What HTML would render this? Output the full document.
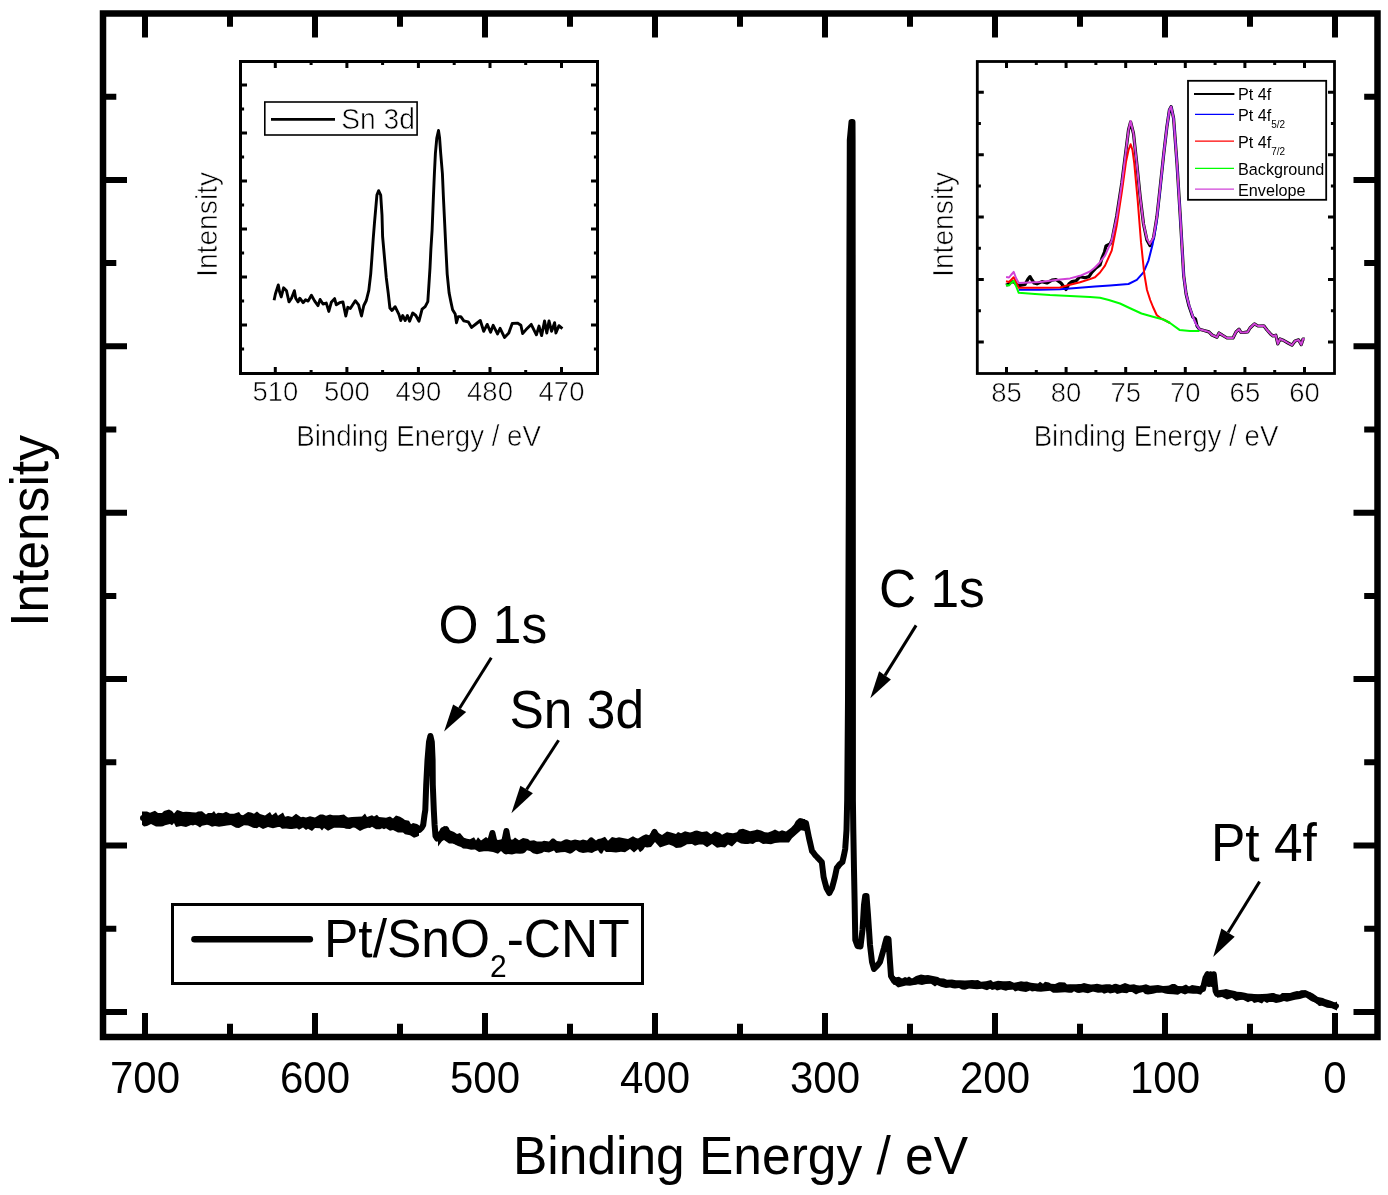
<!DOCTYPE html><html><head><meta charset="utf-8"><style>html,body{margin:0;padding:0;background:#fff;}svg{display:block;will-change:transform;}text{font-family:"Liberation Sans",sans-serif;}.t{stroke:#fff;stroke-width:0.6px;}</style></head><body><svg width="1388" height="1195" viewBox="0 0 1388 1195"><rect width="100%" height="100%" fill="#fff"/><rect x="103" y="13.5" width="1274.5" height="1023.5" fill="none" stroke="#000" stroke-width="6.5"/><path d="M1335.0,1037 V1013 M1335.0,13.5 V37.5 M1250.0,1037 V1023.7 M1250.0,13.5 V26.8 M1165.0,1037 V1013 M1165.0,13.5 V37.5 M1080.0,1037 V1023.7 M1080.0,13.5 V26.8 M995.0,1037 V1013 M995.0,13.5 V37.5 M910.0,1037 V1023.7 M910.0,13.5 V26.8 M825.0,1037 V1013 M825.0,13.5 V37.5 M740.0,1037 V1023.7 M740.0,13.5 V26.8 M655.0,1037 V1013 M655.0,13.5 V37.5 M570.0,1037 V1023.7 M570.0,13.5 V26.8 M485.0,1037 V1013 M485.0,13.5 V37.5 M400.0,1037 V1023.7 M400.0,13.5 V26.8 M315.0,1037 V1013 M315.0,13.5 V37.5 M230.0,1037 V1023.7 M230.0,13.5 V26.8 M145.0,1037 V1013 M145.0,13.5 V37.5 M103,96.7 H116.3 M1377.5,96.7 H1364.2 M103,179.9 H127 M1377.5,179.9 H1353.5 M103,263.1 H116.3 M1377.5,263.1 H1364.2 M103,346.3 H127 M1377.5,346.3 H1353.5 M103,429.5 H116.3 M1377.5,429.5 H1364.2 M103,512.7 H127 M1377.5,512.7 H1353.5 M103,595.9 H116.3 M1377.5,595.9 H1364.2 M103,679.1 H127 M1377.5,679.1 H1353.5 M103,762.3 H116.3 M1377.5,762.3 H1364.2 M103,845.5 H127 M1377.5,845.5 H1353.5 M103,928.7 H116.3 M1377.5,928.7 H1364.2 M103,1011.9 H127 M1377.5,1011.9 H1353.5" stroke="#000" stroke-width="6" stroke-linecap="butt" fill="none"/><text transform="translate(1335.0,1093) scale(1,1.035)" font-size="42" text-anchor="middle" font-family="Liberation Sans, sans-serif">0</text><text transform="translate(1165.0,1093) scale(1,1.035)" font-size="42" text-anchor="middle" font-family="Liberation Sans, sans-serif">100</text><text transform="translate(995.0,1093) scale(1,1.035)" font-size="42" text-anchor="middle" font-family="Liberation Sans, sans-serif">200</text><text transform="translate(825.0,1093) scale(1,1.035)" font-size="42" text-anchor="middle" font-family="Liberation Sans, sans-serif">300</text><text transform="translate(655.0,1093) scale(1,1.035)" font-size="42" text-anchor="middle" font-family="Liberation Sans, sans-serif">400</text><text transform="translate(485.0,1093) scale(1,1.035)" font-size="42" text-anchor="middle" font-family="Liberation Sans, sans-serif">500</text><text transform="translate(315.0,1093) scale(1,1.035)" font-size="42" text-anchor="middle" font-family="Liberation Sans, sans-serif">600</text><text transform="translate(145.0,1093) scale(1,1.035)" font-size="42" text-anchor="middle" font-family="Liberation Sans, sans-serif">700</text><text transform="translate(740.5,1174) scale(1,1.035)" font-size="51.5" text-anchor="middle" font-family="Liberation Sans, sans-serif">Binding Energy / eV</text><text transform="translate(48.2,531) rotate(-90) scale(1,1.035)" font-size="51.5" text-anchor="middle" font-family="Liberation Sans, sans-serif">Intensity</text><path d="M143.0,818.0 L144.0,818.0 L145.0,818.0 L146.0,818.0 L147.0,818.0 L148.0,818.0 L149.0,818.0 L150.0,818.0 L151.0,818.0 L152.0,818.0 L153.0,818.0 L154.0,818.0 L155.0,818.0 L156.0,818.0 L157.0,818.0 L158.0,818.0 L159.0,818.0 L160.0,818.0 L161.0,818.0 L162.0,818.0 L163.0,818.0 L164.0,818.0 L165.0,818.0 L166.0,818.0 L167.0,818.0 L168.0,818.0 L169.0,818.0 L170.0,818.0 L171.0,818.0 L172.0,818.1 L173.0,818.1 L174.0,818.1 L175.0,818.2 L176.0,818.2 L177.0,818.2 L178.0,818.3 L179.0,818.3 L180.0,818.3 L181.0,818.4 L182.0,818.4 L183.0,818.4 L184.0,818.5 L185.0,818.5 L186.0,818.5 L187.0,818.6 L188.0,818.6 L189.0,818.6 L190.0,818.7 L191.0,818.7 L192.0,818.7 L193.0,818.8 L194.0,818.8 L195.0,818.8 L196.0,818.9 L197.0,818.9 L198.0,818.9 L199.0,819.0 L200.0,819.0 L201.0,819.0 L202.0,819.0 L203.0,819.1 L204.0,819.1 L205.0,819.1 L206.0,819.1 L207.0,819.1 L208.0,819.2 L209.0,819.2 L210.0,819.2 L211.0,819.2 L212.0,819.2 L213.0,819.3 L214.0,819.3 L215.0,819.3 L216.0,819.3 L217.0,819.3 L218.0,819.4 L219.0,819.4 L220.0,819.4 L221.0,819.4 L222.0,819.4 L223.0,819.5 L224.0,819.5 L225.0,819.5 L226.0,819.5 L227.0,819.5 L228.0,819.6 L229.0,819.6 L230.0,819.6 L231.0,819.6 L232.0,819.6 L233.0,819.7 L234.0,819.7 L235.0,819.7 L236.0,819.7 L237.0,819.7 L238.0,819.8 L239.0,819.8 L240.0,819.8 L241.0,819.8 L242.0,819.8 L243.0,819.9 L244.0,819.9 L245.0,819.9 L246.0,819.9 L247.0,819.9 L248.0,820.0 L249.0,820.0 L250.0,820.0 L251.0,820.0 L252.0,820.1 L253.0,820.1 L254.0,820.2 L255.0,820.2 L256.0,820.2 L257.0,820.3 L258.0,820.3 L259.0,820.4 L260.0,820.4 L261.0,820.4 L262.0,820.5 L263.0,820.5 L264.0,820.6 L265.0,820.6 L266.0,820.6 L267.0,820.7 L268.0,820.7 L269.0,820.8 L270.0,820.8 L271.0,820.8 L272.0,820.9 L273.0,820.9 L274.0,821.0 L275.0,821.0 L276.0,821.0 L277.0,821.1 L278.0,821.1 L279.0,821.2 L280.0,821.2 L281.0,821.2 L282.0,821.3 L283.0,821.3 L284.0,821.4 L285.0,821.4 L286.0,821.4 L287.0,821.5 L288.0,821.5 L289.0,821.6 L290.0,821.6 L291.0,821.6 L292.0,821.7 L293.0,821.7 L294.0,821.8 L295.0,821.8 L296.0,821.8 L297.0,821.9 L298.0,821.9 L299.0,822.0 L300.0,822.0 L301.0,822.0 L302.0,822.1 L303.0,822.1 L304.0,822.1 L305.0,822.2 L306.0,822.2 L307.0,822.2 L308.0,822.3 L309.0,822.3 L310.0,822.3 L311.0,822.4 L312.0,822.4 L313.0,822.4 L314.0,822.5 L315.0,822.5 L316.0,822.5 L317.0,822.6 L318.0,822.6 L319.0,822.6 L320.0,822.7 L321.0,822.7 L322.0,822.7 L323.0,822.8 L324.0,822.8 L325.0,822.8 L326.0,822.9 L327.0,822.9 L328.0,822.9 L329.0,823.0 L330.0,823.0 L331.0,823.0 L332.0,823.0 L333.0,822.9 L334.0,822.9 L335.0,822.9 L336.0,822.9 L337.0,822.8 L338.0,822.8 L339.0,822.8 L340.0,822.8 L341.0,822.7 L342.0,822.7 L343.0,822.7 L344.0,822.6 L345.0,822.6 L346.0,822.6 L347.0,822.6 L348.0,822.5 L349.0,822.5 L350.0,822.5 L351.0,822.5 L352.0,822.5 L353.0,822.4 L354.0,822.4 L355.0,822.4 L356.0,822.4 L357.0,822.3 L358.0,822.3 L359.0,822.3 L360.0,822.2 L361.0,822.2 L362.0,822.2 L363.0,822.2 L364.0,822.1 L365.0,822.1 L366.0,822.1 L367.0,822.1 L368.0,822.0 L369.0,822.0 L370.0,822.0 L371.0,822.1 L372.0,822.1 L373.0,822.2 L374.0,822.3 L375.0,822.3 L376.0,822.4 L377.0,822.5 L378.0,822.5 L379.0,822.6 L380.0,822.7 L381.0,822.7 L382.0,822.8 L383.0,822.9 L384.0,822.9 L385.0,823.0 L386.0,823.1 L387.0,823.1 L388.0,823.2 L389.0,823.3 L390.0,823.3 L391.0,823.4 L392.0,823.5 L393.0,823.5 L394.0,823.6 L395.0,823.7 L396.0,823.7 L397.0,823.8 L398.0,823.9 L399.0,823.9 L400.0,824.0 L401.0,824.5 L402.0,825.0 L403.0,825.5 L404.0,826.0 L405.0,826.5 L406.0,827.0 L407.0,827.5 L408.0,828.0 L409.0,828.3 L410.0,828.6 L411.0,828.9 L412.0,829.1 L413.0,829.4 L414.0,829.7 L415.0,830.0 L416.1,830.0 L417.2,830.0 L418.4,830.0 L419.5,830.0 L420.5,829.0 L421.5,828.0 L423.2,825.0 L424.5,815.0 L425.3,810.0 L426.2,785.0 L427.5,760.0 L429.0,742.0 L430.4,736.0 L431.8,742.0 L432.6,760.0 L432.8,785.0 L433.8,810.0 L434.6,825.0 L435.5,836.0 L437.0,838.5 L438.0,837.7 L439.0,836.8 L440.0,836.0 L441.0,834.0 L442.0,832.0 L443.0,830.0 L444.0,829.7 L445.0,829.3 L446.0,829.0 L447.0,831.2 L448.0,833.5 L449.0,835.8 L450.0,838.0 L451.0,838.6 L452.0,839.2 L453.0,839.8 L454.0,840.4 L455.0,841.0 L456.0,841.3 L457.0,841.6 L458.0,841.9 L459.0,842.2 L460.0,842.5 L461.0,842.8 L462.0,843.1 L463.0,843.4 L464.0,843.7 L465.0,844.0 L466.0,844.1 L467.0,844.2 L468.0,844.2 L469.0,844.3 L470.0,844.4 L471.0,844.5 L472.0,844.5 L473.0,844.6 L474.0,844.7 L475.0,844.8 L476.0,844.8 L477.0,844.9 L478.0,845.0 L479.0,845.1 L480.0,845.2 L481.0,845.3 L482.0,845.4 L483.0,845.5 L484.0,845.6 L485.0,845.7 L486.0,845.8 L487.0,845.9 L488.0,846.0 L489.2,843.0 L490.5,840.0 L492.4,833.0 L494.0,840.0 L495.0,843.0 L496.0,846.0 L497.0,846.0 L498.0,846.0 L499.0,846.0 L500.0,846.0 L501.0,846.0 L502.0,846.0 L503.0,846.0 L504.0,842.0 L505.0,838.0 L506.4,831.0 L508.0,840.0 L509.0,843.0 L510.0,846.0 L511.0,846.1 L512.0,846.2 L513.0,846.3 L514.0,846.4 L515.0,846.5 L516.0,846.6 L517.0,846.7 L518.0,846.8 L519.0,846.9 L520.0,847.0 L521.0,847.0 L522.0,846.9 L523.0,846.9 L524.0,846.8 L525.0,846.8 L526.0,846.7 L527.0,846.7 L528.0,846.7 L529.0,846.6 L530.0,846.6 L531.0,846.5 L532.0,846.5 L533.0,846.4 L534.0,846.4 L535.0,846.3 L536.0,846.3 L537.0,846.3 L538.0,846.2 L539.0,846.2 L540.0,846.1 L541.0,846.1 L542.0,846.0 L543.0,846.0 L544.0,846.0 L545.0,846.0 L546.0,846.0 L547.0,846.0 L548.0,846.0 L549.0,845.9 L550.0,845.9 L551.0,845.9 L552.0,845.9 L553.0,845.9 L554.0,845.9 L555.0,845.9 L556.0,845.9 L557.0,845.9 L558.0,845.9 L559.0,845.9 L560.0,845.9 L561.0,845.8 L562.0,845.8 L563.0,845.8 L564.0,845.8 L565.0,845.8 L566.0,845.8 L567.0,845.8 L568.0,845.8 L569.0,845.8 L570.0,845.8 L571.0,845.8 L572.0,845.7 L573.0,845.7 L574.0,845.7 L575.0,845.7 L576.0,845.7 L577.0,845.7 L578.0,845.7 L579.0,845.7 L580.0,845.7 L581.0,845.7 L582.0,845.7 L583.0,845.6 L584.0,845.6 L585.0,845.6 L586.0,845.6 L587.0,845.6 L588.0,845.6 L589.0,845.6 L590.0,845.6 L591.0,845.6 L592.0,845.6 L593.0,845.6 L594.0,845.6 L595.0,845.5 L596.0,845.5 L597.0,845.5 L598.0,845.5 L599.0,845.5 L600.0,845.5 L601.0,845.5 L602.0,845.4 L603.0,845.4 L604.0,845.4 L605.0,845.3 L606.0,845.3 L607.0,845.2 L608.0,845.2 L609.0,845.2 L610.0,845.1 L611.0,845.1 L612.0,845.0 L613.0,845.0 L614.0,845.0 L615.0,844.9 L616.0,844.9 L617.0,844.9 L618.0,844.8 L619.0,844.8 L620.0,844.8 L621.0,844.7 L622.0,844.7 L623.0,844.6 L624.0,844.6 L625.0,844.6 L626.0,844.5 L627.0,844.5 L628.0,844.5 L629.0,844.4 L630.0,844.4 L631.0,844.3 L632.0,844.3 L633.0,844.3 L634.0,844.2 L635.0,844.2 L636.0,844.1 L637.0,844.1 L638.0,844.1 L639.0,844.0 L640.0,844.0 L641.0,843.6 L642.0,843.2 L643.0,842.8 L644.0,842.4 L645.0,842.0 L646.0,841.6 L647.0,841.2 L648.0,840.8 L649.0,840.4 L650.0,840.0 L651.1,838.0 L652.2,836.0 L653.4,834.0 L654.5,832.0 L655.6,834.0 L656.8,836.0 L657.9,838.0 L659.0,840.0 L660.0,840.0 L661.0,840.0 L662.0,840.0 L663.0,840.0 L664.0,840.0 L665.0,840.0 L666.0,840.0 L667.0,840.0 L668.0,840.0 L669.0,840.0 L670.0,840.0 L671.0,840.0 L672.0,840.0 L673.0,840.0 L674.0,840.0 L675.0,840.0 L676.0,840.0 L677.0,840.0 L678.0,840.0 L679.0,840.0 L680.0,840.0 L681.0,839.9 L682.0,839.9 L683.0,839.8 L684.0,839.7 L685.0,839.6 L686.0,839.5 L687.0,839.5 L688.0,839.4 L689.0,839.3 L690.0,839.2 L691.0,839.2 L692.0,839.1 L693.0,839.0 L694.0,839.0 L695.0,838.9 L696.0,838.8 L697.0,838.7 L698.0,838.6 L699.0,838.6 L700.0,838.5 L701.0,838.6 L702.0,838.6 L703.0,838.7 L704.0,838.8 L705.0,838.8 L706.0,838.9 L707.0,839.0 L708.0,839.0 L709.0,839.1 L710.0,839.2 L711.0,839.2 L712.0,839.3 L713.0,839.4 L714.0,839.5 L715.0,839.5 L716.0,839.6 L717.0,839.7 L718.0,839.7 L719.0,839.8 L720.0,839.9 L721.0,839.9 L722.0,840.0 L723.0,839.8 L724.0,839.6 L725.0,839.4 L726.0,839.2 L727.0,839.0 L728.0,838.9 L729.0,838.7 L730.0,838.5 L731.0,838.3 L732.0,838.1 L733.0,837.9 L734.0,837.7 L735.0,837.5 L736.0,837.3 L737.0,837.1 L738.0,837.0 L739.0,836.8 L740.0,836.6 L741.0,836.4 L742.0,836.2 L743.0,836.0 L744.0,836.0 L745.0,836.1 L746.0,836.1 L747.0,836.2 L748.0,836.2 L749.0,836.3 L750.0,836.3 L751.0,836.4 L752.0,836.4 L753.0,836.5 L754.0,836.5 L755.0,836.5 L756.0,836.6 L757.0,836.6 L758.0,836.7 L759.0,836.7 L760.0,836.8 L761.0,836.8 L762.0,836.9 L763.0,836.9 L764.0,837.0 L765.0,837.0 L766.0,837.0 L767.0,837.0 L768.0,837.0 L769.0,837.0 L770.0,837.0 L771.0,837.0 L772.0,837.0 L773.0,837.0 L774.0,837.0 L775.0,837.0 L776.0,837.0 L777.0,837.0 L778.0,837.0 L779.0,837.0 L780.0,837.0 L781.0,837.0 L782.0,837.0 L783.0,837.0 L784.0,837.0 L785.0,837.0 L786.0,837.0 L787.0,837.0 L788.0,836.1 L789.0,835.2 L790.0,834.4 L791.0,833.5 L792.0,832.6 L793.0,831.8 L794.0,830.9 L795.0,830.0 L796.0,828.2 L797.1,826.4 L798.1,824.6 L799.2,822.8 L800.2,821.0 L801.4,821.4 L802.5,821.8 L803.7,822.2 L804.8,822.6 L806.0,823.0 L807.0,828.0 L808.0,833.0 L809.0,838.0 L810.0,842.3 L811.0,846.7 L812.0,851.0 L813.0,852.2 L814.0,853.5 L815.0,854.8 L816.0,856.0 L817.2,857.2 L818.3,858.4 L819.5,859.6 L820.6,860.8 L821.8,862.0 L823.6,877.0 L825.0,882.5 L826.5,888.0 L827.9,890.5 L829.3,893.0 L830.6,890.5 L832.0,888.0 L833.5,882.5 L834.9,877.0 L836.8,868.0 L837.9,866.7 L838.9,865.3 L840.0,864.0 L841.2,863.0 L842.4,862.0 L844.0,855.0 L845.2,849.0 L846.5,830.0 L847.2,800.0 L848.0,700.0 L848.8,500.0 L849.3,300.0 L849.8,140.0 L851.5,122.0 L852.5,122.0 L852.6,140.0 L852.7,300.0 L852.8,500.0 L852.9,700.0 L852.9,800.0 L853.3,830.0 L854.0,870.0 L854.6,900.0 L855.3,940.0 L856.4,943.0 L857.5,946.0 L858.5,946.2 L859.5,946.3 L860.5,946.5 L861.5,938.2 L862.5,930.0 L864.0,905.0 L865.2,896.0 L866.5,896.0 L868.0,915.0 L869.0,930.0 L870.0,945.0 L871.0,953.5 L872.0,962.0 L873.0,965.5 L874.0,969.0 L875.0,968.0 L876.0,967.0 L877.0,966.0 L878.0,964.7 L879.0,963.3 L880.0,962.0 L881.0,958.5 L882.0,955.0 L883.0,951.5 L884.0,948.0 L885.2,943.2 L886.5,938.5 L887.5,938.8 L888.5,939.0 L889.5,955.0 L891.0,976.0 L892.0,977.7 L893.0,979.3 L894.0,981.0 L895.0,981.5 L896.0,982.0 L897.0,982.0 L898.0,982.0 L899.0,982.0 L900.0,982.0 L901.0,982.0 L902.0,982.0 L903.0,982.0 L904.0,982.0 L905.0,982.0 L906.0,982.0 L907.0,982.0 L908.0,982.0 L909.0,982.0 L910.0,982.0 L911.0,982.0 L912.0,982.0 L913.0,981.8 L914.0,981.6 L915.0,981.4 L916.0,981.1 L917.0,980.9 L918.0,980.7 L919.0,980.5 L920.0,980.3 L921.0,980.1 L922.0,979.9 L923.0,979.6 L924.0,979.4 L925.0,979.2 L926.0,979.0 L927.0,979.2 L928.0,979.5 L929.0,979.7 L930.0,980.0 L931.0,980.2 L932.0,980.4 L933.0,980.7 L934.0,980.9 L935.0,981.1 L936.0,981.4 L937.0,981.6 L938.0,981.9 L939.0,982.1 L940.0,982.3 L941.0,982.6 L942.0,982.8 L943.0,983.0 L944.0,983.3 L945.0,983.5 L946.0,983.8 L947.0,984.0 L948.0,984.0 L949.0,984.0 L950.0,984.0 L951.0,984.0 L952.0,984.0 L953.0,984.0 L954.0,984.0 L955.0,984.0 L956.0,984.0 L957.0,984.0 L958.0,984.0 L959.0,984.0 L960.0,984.0 L961.0,984.0 L962.0,984.1 L963.0,984.1 L964.0,984.2 L965.0,984.2 L966.0,984.3 L967.0,984.4 L968.0,984.4 L969.0,984.5 L970.0,984.5 L971.0,984.5 L972.0,984.6 L973.0,984.6 L974.0,984.7 L975.0,984.8 L976.0,984.8 L977.0,984.9 L978.0,984.9 L979.0,985.0 L980.0,985.0 L981.0,985.0 L982.0,985.1 L983.0,985.1 L984.0,985.2 L985.0,985.2 L986.0,985.3 L987.0,985.4 L988.0,985.4 L989.0,985.5 L990.0,985.5 L991.0,985.5 L992.0,985.6 L993.0,985.6 L994.0,985.7 L995.0,985.8 L996.0,985.8 L997.0,985.9 L998.0,985.9 L999.0,986.0 L1000.0,986.0 L1001.0,986.0 L1002.0,986.1 L1003.0,986.1 L1004.0,986.1 L1005.0,986.1 L1006.0,986.2 L1007.0,986.2 L1008.0,986.2 L1009.0,986.2 L1010.0,986.3 L1011.0,986.3 L1012.0,986.3 L1013.0,986.3 L1014.0,986.4 L1015.0,986.4 L1016.0,986.4 L1017.0,986.4 L1018.0,986.5 L1019.0,986.5 L1020.0,986.5 L1021.0,986.6 L1022.0,986.6 L1023.0,986.6 L1024.0,986.6 L1025.0,986.7 L1026.0,986.7 L1027.0,986.7 L1028.0,986.7 L1029.0,986.8 L1030.0,986.8 L1031.0,986.8 L1032.0,986.8 L1033.0,986.9 L1034.0,986.9 L1035.0,986.9 L1036.0,986.9 L1037.0,987.0 L1038.0,987.0 L1039.0,987.0 L1040.0,987.1 L1041.0,987.1 L1042.0,987.1 L1043.0,987.1 L1044.0,987.2 L1045.0,987.2 L1046.0,987.2 L1047.0,987.2 L1048.0,987.3 L1049.0,987.3 L1050.0,987.3 L1051.0,987.3 L1052.0,987.4 L1053.0,987.4 L1054.0,987.4 L1055.0,987.4 L1056.0,987.5 L1057.0,987.5 L1058.0,987.5 L1059.0,987.6 L1060.0,987.6 L1061.0,987.6 L1062.0,987.6 L1063.0,987.7 L1064.0,987.7 L1065.0,987.7 L1066.0,987.7 L1067.0,987.8 L1068.0,987.8 L1069.0,987.8 L1070.0,987.8 L1071.0,987.9 L1072.0,987.9 L1073.0,987.9 L1074.0,987.9 L1075.0,988.0 L1076.0,988.0 L1077.0,988.0 L1078.0,988.0 L1079.0,988.0 L1080.0,988.1 L1081.0,988.1 L1082.0,988.1 L1083.0,988.1 L1084.0,988.1 L1085.0,988.1 L1086.0,988.1 L1087.0,988.1 L1088.0,988.2 L1089.0,988.2 L1090.0,988.2 L1091.0,988.2 L1092.0,988.2 L1093.0,988.2 L1094.0,988.2 L1095.0,988.3 L1096.0,988.3 L1097.0,988.3 L1098.0,988.3 L1099.0,988.3 L1100.0,988.3 L1101.0,988.3 L1102.0,988.4 L1103.0,988.4 L1104.0,988.4 L1105.0,988.4 L1106.0,988.4 L1107.0,988.4 L1108.0,988.4 L1109.0,988.4 L1110.0,988.5 L1111.0,988.5 L1112.0,988.5 L1113.0,988.5 L1114.0,988.5 L1115.0,988.5 L1116.0,988.5 L1117.0,988.6 L1118.0,988.6 L1119.0,988.6 L1120.0,988.6 L1121.0,988.6 L1122.0,988.6 L1123.0,988.6 L1124.0,988.6 L1125.0,988.7 L1126.0,988.7 L1127.0,988.7 L1128.0,988.7 L1129.0,988.7 L1130.0,988.7 L1131.0,988.7 L1132.0,988.8 L1133.0,988.8 L1134.0,988.8 L1135.0,988.8 L1136.0,988.8 L1137.0,988.8 L1138.0,988.8 L1139.0,988.9 L1140.0,988.9 L1141.0,988.9 L1142.0,988.9 L1143.0,988.9 L1144.0,988.9 L1145.0,988.9 L1146.0,988.9 L1147.0,989.0 L1148.0,989.0 L1149.0,989.0 L1150.0,989.0 L1151.0,989.0 L1152.0,989.0 L1153.0,989.1 L1154.0,989.1 L1155.0,989.1 L1156.0,989.1 L1157.0,989.1 L1158.0,989.2 L1159.0,989.2 L1160.0,989.2 L1161.0,989.2 L1162.0,989.2 L1163.0,989.3 L1164.0,989.3 L1165.0,989.3 L1166.0,989.3 L1167.0,989.3 L1168.0,989.4 L1169.0,989.4 L1170.0,989.4 L1171.0,989.4 L1172.0,989.4 L1173.0,989.5 L1174.0,989.5 L1175.0,989.5 L1176.0,989.5 L1177.0,989.5 L1178.0,989.6 L1179.0,989.6 L1180.0,989.6 L1181.0,989.6 L1182.0,989.6 L1183.0,989.7 L1184.0,989.7 L1185.0,989.7 L1186.0,989.7 L1187.0,989.7 L1188.0,989.8 L1189.0,989.8 L1190.0,989.8 L1191.0,989.8 L1192.0,989.8 L1193.0,989.9 L1194.0,989.9 L1195.0,989.9 L1196.0,989.9 L1197.0,989.9 L1198.0,990.0 L1199.0,990.0 L1200.0,990.0 L1201.0,989.7 L1202.0,989.3 L1203.0,989.0 L1204.2,983.5 L1205.5,978.0 L1206.5,976.1 L1207.5,974.2 L1209.0,984.0 L1210.5,974.2 L1212.0,984.0 L1213.8,974.2 L1214.8,984.0 L1215.6,991.0 L1217.0,994.0 L1218.0,993.9 L1219.0,993.9 L1220.0,993.8 L1221.0,993.7 L1222.0,993.6 L1223.0,993.6 L1224.0,993.5 L1225.0,993.7 L1226.0,993.8 L1227.0,994.0 L1228.0,994.1 L1229.0,994.3 L1230.0,994.5 L1231.0,994.6 L1232.0,994.8 L1233.0,994.9 L1234.0,995.1 L1235.0,995.2 L1236.0,995.4 L1237.0,995.6 L1238.0,995.7 L1239.0,995.9 L1240.0,996.0 L1241.0,996.2 L1242.0,996.4 L1243.0,996.5 L1244.0,996.7 L1245.0,996.8 L1246.0,997.0 L1247.0,997.0 L1248.0,997.1 L1249.0,997.1 L1250.0,997.2 L1251.0,997.2 L1252.0,997.3 L1253.0,997.3 L1254.0,997.4 L1255.0,997.4 L1256.0,997.5 L1257.0,997.5 L1258.0,997.6 L1259.0,997.6 L1260.0,997.7 L1261.0,997.7 L1262.0,997.8 L1263.0,997.8 L1264.0,997.9 L1265.0,997.9 L1266.0,998.0 L1267.0,998.0 L1268.0,998.1 L1269.0,998.1 L1270.0,998.2 L1271.0,998.2 L1272.0,998.3 L1273.0,998.3 L1274.0,998.4 L1275.0,998.4 L1276.0,998.5 L1277.0,998.5 L1278.0,998.6 L1279.0,998.6 L1280.0,998.4 L1281.0,998.3 L1282.0,998.1 L1283.0,998.0 L1284.0,997.8 L1285.0,997.6 L1286.0,997.5 L1287.0,997.3 L1288.0,997.1 L1289.0,997.0 L1290.0,996.8 L1291.0,996.6 L1292.0,996.5 L1293.0,996.3 L1294.0,996.2 L1295.0,996.0 L1296.0,995.7 L1297.0,995.4 L1298.0,995.1 L1299.0,994.8 L1300.0,994.5 L1301.0,994.2 L1302.0,993.9 L1303.0,993.6 L1304.0,993.3 L1305.0,993.0 L1306.0,993.6 L1307.0,994.2 L1308.0,994.8 L1309.0,995.5 L1310.0,996.1 L1311.0,996.7 L1312.0,997.3 L1313.0,997.9 L1314.0,998.5 L1315.0,999.2 L1316.0,999.8 L1317.0,1000.4 L1318.0,1001.0 L1319.0,1001.3 L1320.0,1001.6 L1321.0,1001.8 L1322.0,1002.1 L1323.0,1002.4 L1324.0,1002.7 L1325.0,1002.9 L1326.0,1003.2 L1327.0,1003.5 L1328.0,1003.8 L1329.0,1004.1 L1330.0,1004.3 L1331.0,1004.6 L1332.0,1004.9 L1333.0,1005.2 L1334.0,1005.4 L1335.0,1005.7 L1336.0,1006.0" stroke="#000" stroke-width="6" stroke-linejoin="round" stroke-linecap="round" fill="none"/><path d="M142.0,811.6 L147.0,811.6 L150.0,812.7 L155.0,810.8 L158.0,813.1 L162.0,812.9 L164.0,810.9 L169.0,809.4 L172.0,810.9 L174.0,813.4 L177.0,810.0 L179.0,810.5 L183.0,812.0 L186.0,811.8 L190.0,812.0 L192.0,812.3 L196.0,812.6 L198.0,811.4 L202.0,811.3 L206.0,814.5 L208.0,812.9 L212.0,813.1 L214.0,811.1 L216.0,813.9 L218.0,812.8 L223.0,813.2 L226.0,811.7 L230.0,813.7 L234.0,813.7 L239.0,812.0 L241.0,814.7 L243.0,815.3 L248.0,812.0 L251.0,812.6 L254.0,813.7 L257.0,811.5 L260.0,814.1 L265.0,815.6 L270.0,812.0 L272.0,815.2 L276.0,812.2 L278.0,815.7 L283.0,812.5 L285.0,816.7 L288.0,816.1 L292.0,817.1 L296.0,813.8 L301.0,817.2 L303.0,816.7 L306.0,817.6 L310.0,816.2 L315.0,817.5 L320.0,814.6 L323.0,814.5 L326.0,815.7 L330.0,814.6 L333.0,815.3 L336.0,815.2 L339.0,815.3 L344.0,814.4 L346.0,816.3 L348.0,817.6 L352.0,816.9 L357.0,816.7 L362.0,816.4 L365.0,813.6 L367.0,817.0 L372.0,815.2 L374.0,816.6 L377.0,814.7 L379.0,816.9 L384.0,817.4 L386.0,817.8 L390.0,816.6 L393.0,818.6 L396.0,815.4 L400.0,816.7 L403.0,818.5 L405.0,820.0 L409.0,820.8 L411.0,824.3 L413.0,822.9 L417.0,824.1 L419.0,825.2 L419.0,835.8 L417.0,836.7 L414.0,837.8 L410.0,835.3 L405.0,834.3 L403.0,832.5 L398.0,832.4 L393.0,830.1 L390.0,830.8 L386.0,828.3 L384.0,829.3 L382.0,828.2 L380.0,829.3 L376.0,829.3 L372.0,826.8 L370.0,828.0 L368.0,827.7 L364.0,829.0 L360.0,831.0 L355.0,827.8 L353.0,827.4 L350.0,829.0 L346.0,828.7 L344.0,828.0 L339.0,827.8 L334.0,827.8 L331.0,829.2 L328.0,830.8 L324.0,828.1 L322.0,830.5 L320.0,828.3 L315.0,827.9 L312.0,831.0 L308.0,828.7 L306.0,830.1 L303.0,827.6 L299.0,829.8 L297.0,828.3 L292.0,828.9 L290.0,828.9 L286.0,828.4 L282.0,828.7 L280.0,826.9 L278.0,827.0 L273.0,828.3 L268.0,826.9 L263.0,829.0 L259.0,826.8 L257.0,828.3 L253.0,827.7 L251.0,826.7 L248.0,825.4 L244.0,825.3 L239.0,828.1 L236.0,827.7 L231.0,825.0 L227.0,825.4 L224.0,826.1 L219.0,826.7 L215.0,826.0 L212.0,826.7 L209.0,825.3 L207.0,824.7 L202.0,825.7 L200.0,827.6 L197.0,825.5 L195.0,824.7 L193.0,825.5 L191.0,825.1 L186.0,827.1 L181.0,826.0 L176.0,827.0 L174.0,823.0 L172.0,825.2 L170.0,824.1 L165.0,825.2 L163.0,826.2 L161.0,826.6 L156.0,826.4 L151.0,824.0 L147.0,825.9 L144.0,826.4 L142.0,824.8 Z M438.0,831.7 L442.0,830.6 L444.0,825.7 L449.0,829.9 L454.0,832.0 L457.0,833.9 L460.0,833.0 L464.0,837.8 L467.0,838.8 L470.0,839.2 L474.0,837.2 L476.0,840.4 L478.0,837.2 L481.0,840.5 L486.0,837.0 L488.0,838.4 L491.0,839.0 L494.0,837.3 L496.0,839.2 L498.0,839.9 L503.0,838.9 L508.0,839.7 L513.0,839.4 L515.0,837.6 L519.0,840.2 L523.0,838.0 L528.0,838.9 L530.0,840.7 L534.0,840.2 L537.0,841.6 L542.0,841.6 L544.0,840.8 L549.0,841.5 L552.0,838.4 L554.0,838.4 L557.0,840.9 L561.0,841.4 L565.0,839.4 L567.0,839.3 L571.0,840.6 L575.0,839.5 L580.0,840.4 L583.0,839.4 L587.0,840.6 L590.0,837.4 L592.0,837.2 L596.0,840.5 L598.0,839.1 L601.0,838.6 L605.0,836.8 L608.0,840.8 L612.0,837.0 L616.0,837.9 L619.0,837.2 L624.0,838.2 L628.0,839.1 L633.0,836.2 L636.0,838.0 L638.0,838.6 L643.0,835.5 L646.0,834.2 L650.0,835.6 L652.0,831.0 L655.0,829.7 L659.0,833.2 L662.0,834.9 L667.0,831.5 L671.0,832.5 L676.0,833.9 L678.0,831.9 L681.0,833.2 L685.0,831.2 L690.0,832.6 L692.0,831.9 L695.0,830.7 L697.0,830.6 L702.0,832.1 L707.0,831.3 L711.0,834.2 L715.0,831.3 L720.0,832.9 L722.0,834.8 L727.0,832.3 L729.0,832.7 L733.0,833.3 L737.0,832.3 L739.0,829.4 L743.0,828.8 L748.0,830.4 L750.0,831.2 L755.0,830.2 L757.0,829.5 L761.0,830.6 L765.0,832.3 L768.0,832.6 L772.0,831.0 L775.0,829.6 L779.0,831.5 L782.0,830.2 L786.0,831.6 L791.0,827.8 L794.0,824.5 L796.0,820.7 L799.0,819.1 L804.0,819.0 L805.0,819.1 L805.0,831.1 L801.0,830.2 L797.0,833.8 L792.0,838.3 L789.0,842.4 L785.0,842.5 L780.0,842.6 L775.0,843.0 L771.0,844.3 L766.0,843.8 L763.0,843.9 L759.0,841.8 L756.0,842.1 L753.0,844.1 L750.0,843.5 L748.0,844.0 L745.0,844.1 L743.0,843.8 L741.0,843.4 L737.0,841.6 L732.0,846.6 L728.0,844.4 L725.0,847.4 L721.0,846.9 L717.0,847.7 L712.0,843.9 L707.0,847.3 L703.0,844.6 L699.0,844.5 L695.0,845.7 L692.0,844.1 L687.0,844.2 L685.0,845.4 L681.0,847.4 L676.0,847.9 L673.0,845.9 L669.0,844.5 L665.0,845.7 L660.0,847.5 L655.0,842.1 L651.0,846.9 L647.0,847.5 L645.0,847.1 L643.0,849.9 L640.0,852.2 L638.0,848.9 L634.0,852.6 L630.0,849.0 L625.0,852.3 L621.0,851.8 L616.0,852.4 L611.0,852.0 L606.0,852.1 L604.0,850.1 L602.0,853.7 L600.0,853.2 L598.0,850.2 L595.0,851.3 L592.0,853.1 L588.0,852.2 L583.0,852.9 L579.0,852.0 L576.0,850.0 L572.0,853.1 L570.0,853.7 L565.0,852.1 L561.0,852.3 L556.0,852.9 L554.0,850.6 L549.0,852.5 L544.0,851.8 L542.0,852.9 L540.0,853.6 L537.0,854.2 L533.0,853.3 L530.0,851.1 L527.0,850.3 L525.0,852.6 L523.0,853.5 L520.0,853.8 L516.0,853.6 L512.0,854.5 L508.0,854.0 L506.0,854.4 L504.0,853.8 L501.0,851.0 L498.0,853.7 L493.0,852.0 L488.0,851.2 L484.0,851.3 L479.0,852.1 L475.0,849.4 L471.0,849.8 L467.0,848.8 L463.0,848.5 L461.0,847.1 L458.0,846.1 L453.0,843.4 L449.0,843.4 L444.0,839.9 L442.0,841.3 L438.0,846.4 Z M893.0,975.5 L896.0,977.2 L899.0,976.7 L902.0,978.5 L905.0,977.0 L907.0,977.8 L909.0,976.4 L912.0,978.6 L916.0,976.0 L921.0,974.6 L925.0,975.2 L928.0,975.1 L933.0,975.9 L938.0,977.1 L940.0,978.3 L944.0,978.4 L947.0,979.7 L952.0,979.5 L956.0,980.3 L960.0,980.2 L965.0,980.4 L969.0,980.3 L972.0,980.0 L975.0,980.2 L978.0,980.0 L981.0,981.7 L986.0,981.2 L991.0,980.1 L993.0,981.9 L998.0,980.8 L1003.0,981.3 L1006.0,981.2 L1010.0,980.9 L1014.0,982.7 L1018.0,982.0 L1021.0,981.2 L1024.0,981.7 L1027.0,981.4 L1029.0,982.2 L1031.0,982.8 L1035.0,983.3 L1038.0,983.4 L1040.0,981.7 L1043.0,983.8 L1045.0,981.7 L1049.0,982.5 L1051.0,983.8 L1055.0,984.0 L1059.0,982.2 L1061.0,982.2 L1065.0,982.5 L1067.0,984.5 L1071.0,984.3 L1076.0,984.3 L1079.0,984.1 L1081.0,984.0 L1084.0,983.1 L1088.0,983.9 L1091.0,984.4 L1094.0,984.2 L1097.0,983.7 L1102.0,984.7 L1106.0,984.2 L1110.0,984.3 L1112.0,985.1 L1114.0,983.9 L1116.0,983.8 L1120.0,984.9 L1125.0,983.1 L1130.0,984.7 L1134.0,984.3 L1137.0,985.3 L1139.0,985.4 L1142.0,985.2 L1146.0,984.3 L1150.0,985.7 L1153.0,985.6 L1158.0,984.9 L1163.0,986.0 L1167.0,985.8 L1169.0,985.4 L1172.0,984.1 L1175.0,984.1 L1178.0,986.1 L1182.0,986.3 L1186.0,984.6 L1189.0,986.5 L1192.0,985.0 L1195.0,985.5 L1200.0,986.3 L1204.0,979.9 L1204.0,990.0 L1201.0,994.8 L1197.0,993.7 L1193.0,993.8 L1188.0,993.2 L1185.0,994.4 L1181.0,993.1 L1178.0,994.8 L1173.0,994.3 L1168.0,994.1 L1165.0,993.5 L1162.0,992.6 L1159.0,992.8 L1157.0,992.7 L1153.0,993.8 L1148.0,994.5 L1145.0,993.9 L1143.0,992.1 L1139.0,993.1 L1136.0,994.4 L1132.0,992.0 L1129.0,992.1 L1127.0,993.2 L1122.0,992.8 L1117.0,994.1 L1115.0,992.4 L1110.0,993.5 L1108.0,992.5 L1104.0,993.8 L1102.0,992.4 L1098.0,992.8 L1093.0,991.6 L1088.0,993.3 L1083.0,992.2 L1079.0,993.1 L1077.0,992.7 L1074.0,991.3 L1072.0,992.8 L1069.0,992.7 L1065.0,992.3 L1061.0,992.5 L1057.0,992.7 L1053.0,992.8 L1050.0,990.8 L1048.0,991.0 L1043.0,991.6 L1041.0,991.8 L1037.0,991.5 L1035.0,990.9 L1032.0,991.5 L1030.0,990.5 L1026.0,992.1 L1021.0,991.3 L1018.0,990.4 L1015.0,991.5 L1013.0,989.6 L1008.0,989.9 L1006.0,990.7 L1001.0,989.4 L997.0,990.5 L995.0,989.3 L992.0,990.0 L990.0,988.8 L987.0,990.3 L982.0,988.8 L977.0,989.2 L974.0,988.9 L969.0,988.6 L965.0,989.7 L962.0,989.5 L959.0,987.9 L955.0,988.5 L953.0,988.3 L950.0,987.6 L946.0,988.1 L941.0,986.7 L937.0,985.1 L935.0,986.5 L931.0,983.8 L926.0,984.1 L922.0,985.1 L918.0,984.2 L916.0,984.7 L914.0,984.9 L910.0,985.8 L906.0,985.6 L902.0,986.5 L898.0,987.5 L895.0,985.0 L893.0,984.5 Z M1217.0,990.5 L1220.0,989.9 L1224.0,989.6 L1226.0,989.0 L1230.0,990.1 L1235.0,991.1 L1237.0,991.7 L1241.0,992.1 L1245.0,992.8 L1248.0,993.5 L1252.0,993.7 L1254.0,993.9 L1258.0,994.3 L1262.0,994.1 L1267.0,993.8 L1272.0,992.9 L1274.0,993.1 L1276.0,993.9 L1280.0,994.8 L1282.0,993.1 L1287.0,992.9 L1290.0,993.0 L1293.0,992.0 L1297.0,991.0 L1299.0,991.3 L1301.0,990.3 L1303.0,990.3 L1308.0,991.4 L1310.0,991.9 L1313.0,993.4 L1318.0,997.1 L1323.0,998.1 L1325.0,999.1 L1330.0,1000.6 L1335.0,1002.4 L1337.0,1001.6 L1337.0,1010.5 L1334.0,1009.3 L1332.0,1008.2 L1327.0,1007.8 L1322.0,1005.8 L1319.0,1006.1 L1317.0,1003.9 L1315.0,1002.6 L1311.0,1001.0 L1306.0,997.4 L1304.0,997.7 L1300.0,999.0 L1295.0,999.8 L1290.0,1000.9 L1287.0,1001.7 L1284.0,1001.1 L1280.0,1002.3 L1276.0,1003.1 L1273.0,1001.9 L1269.0,1001.9 L1267.0,1003.1 L1264.0,1001.2 L1262.0,1003.4 L1258.0,1002.0 L1254.0,1002.9 L1252.0,1001.0 L1250.0,1001.3 L1248.0,1002.2 L1243.0,999.8 L1240.0,1000.1 L1236.0,1000.9 L1232.0,998.0 L1227.0,999.4 L1222.0,996.9 L1217.0,997.8 Z" fill="#000"/><text transform="translate(438.5,643) scale(1,1.035)" font-size="51.5" font-family="Liberation Sans, sans-serif">O 1s</text><text transform="translate(509.5,728.2) scale(1,1.035)" font-size="51.5" font-family="Liberation Sans, sans-serif">Sn 3d</text><text transform="translate(879,606.7) scale(1,1.035)" font-size="51.5" font-family="Liberation Sans, sans-serif">C 1s</text><text transform="translate(1211,860.8) scale(1,1.035)" font-size="51.5" font-family="Liberation Sans, sans-serif">Pt 4f</text><path d="M491.3,657.7 L459.6,708.3" stroke="#000" stroke-width="3" fill="none"/><path d="M444.1,731.6 L453.1,704.5 L466.2,712.1 Z" fill="#000"/><path d="M558.6,740.2 L526.6,789.5" stroke="#000" stroke-width="3" fill="none"/><path d="M511.4,813.3 L520.4,785.8 L532.9,793.2 Z" fill="#000"/><path d="M916.1,625.4 L885.0,675.4" stroke="#000" stroke-width="3" fill="none"/><path d="M870.3,698.3 L879.1,671.3 L890.9,679.5 Z" fill="#000"/><path d="M1259.6,881.6 L1228.1,932.5" stroke="#000" stroke-width="3" fill="none"/><path d="M1213.2,956.9 L1221.4,928.4 L1234.7,936.7 Z" fill="#000"/><rect x="172.5" y="904.5" width="470" height="79" fill="none" stroke="#000" stroke-width="3"/><path d="M194.5,939.3 H309.8" stroke="#000" stroke-width="6.6" stroke-linecap="round"/><text transform="translate(324,956.6) scale(1,1.035)" font-size="51.5" font-family="Liberation Sans, sans-serif">Pt/SnO<tspan font-size="30" dy="19.5">2</tspan><tspan dy="-19.5">-CNT</tspan></text><rect x="240.5" y="61.5" width="357" height="312" fill="none" stroke="#000" stroke-width="3"/><path d="M561.5,373.5 V367.0 M561.5,61.5 V68.0 M525.7,373.5 V369.9 M525.7,61.5 V65.1 M490.0,373.5 V367.0 M490.0,61.5 V68.0 M454.2,373.5 V369.9 M454.2,61.5 V65.1 M418.4,373.5 V367.0 M418.4,61.5 V68.0 M382.6,373.5 V369.9 M382.6,61.5 V65.1 M346.9,373.5 V367.0 M346.9,61.5 V68.0 M311.1,373.5 V369.9 M311.1,61.5 V65.1 M275.3,373.5 V367.0 M275.3,61.5 V68.0 M240.5,85.0 H247.0 M597.5,85.0 H591.0 M240.5,109.0 H244.1 M597.5,109.0 H593.9 M240.5,133.0 H247.0 M597.5,133.0 H591.0 M240.5,157.0 H244.1 M597.5,157.0 H593.9 M240.5,181.0 H247.0 M597.5,181.0 H591.0 M240.5,205.0 H244.1 M597.5,205.0 H593.9 M240.5,229.0 H247.0 M597.5,229.0 H591.0 M240.5,253.0 H244.1 M597.5,253.0 H593.9 M240.5,277.0 H247.0 M597.5,277.0 H591.0 M240.5,301.0 H244.1 M597.5,301.0 H593.9 M240.5,325.0 H247.0 M597.5,325.0 H591.0 M240.5,349.0 H244.1 M597.5,349.0 H593.9" stroke="#000" stroke-width="3" fill="none"/><text class="t" transform="translate(561.5,401.3) scale(1,1.035)" font-size="27.5" text-anchor="middle" font-family="Liberation Sans, sans-serif">470</text><text class="t" transform="translate(490.0,401.3) scale(1,1.035)" font-size="27.5" text-anchor="middle" font-family="Liberation Sans, sans-serif">480</text><text class="t" transform="translate(418.4,401.3) scale(1,1.035)" font-size="27.5" text-anchor="middle" font-family="Liberation Sans, sans-serif">490</text><text class="t" transform="translate(346.9,401.3) scale(1,1.035)" font-size="27.5" text-anchor="middle" font-family="Liberation Sans, sans-serif">500</text><text class="t" transform="translate(275.3,401.3) scale(1,1.035)" font-size="27.5" text-anchor="middle" font-family="Liberation Sans, sans-serif">510</text><text class="t" transform="translate(418.6,446) scale(1,1.035)" font-size="27.7" text-anchor="middle" font-family="Liberation Sans, sans-serif">Binding Energy / eV</text><text class="t" transform="translate(216.9,224.4) rotate(-90) scale(1,1.035)" font-size="28.2" text-anchor="middle" font-family="Liberation Sans, sans-serif">Intensity</text><rect x="264.8" y="102" width="152.3" height="33" fill="none" stroke="#000" stroke-width="1.6"/><path d="M271,119.4 H335" stroke="#000" stroke-width="2.6"/><text class="t" transform="translate(341.2,129.2) scale(1,1.035)" font-size="28.2" font-family="Liberation Sans, sans-serif">Sn 3d</text><path d="M274.1,300.2 L275.4,294.0 L278.3,284.9 L279.5,291.5 L281.2,296.9 L283.6,287.8 L286.5,290.7 L289.0,301.9 L291.5,298.2 L294.4,290.7 L295.7,298.2 L298.1,301.9 L299.8,298.2 L303.1,302.7 L305.6,299.8 L308.1,301.1 L311.4,295.3 L314.7,301.1 L318.0,305.6 L320.1,299.4 L323.0,304.0 L326.3,303.1 L328.8,311.4 L331.3,302.3 L334.6,298.6 L336.3,304.8 L339.6,302.7 L342.9,301.9 L345.8,316.0 L347.8,307.3 L350.3,308.5 L355.3,300.7 L358.6,304.8 L361.5,316.0 L363.8,305.5 L366.3,300.5 L368.8,290.4 L370.7,274.1 L371.9,257.8 L373.2,239.0 L374.4,223.9 L375.7,208.9 L376.9,195.1 L378.6,190.7 L380.7,195.1 L382.0,215.1 L382.6,236.5 L384.5,257.8 L386.3,277.9 L388.2,292.9 L389.9,308.0 L392.0,310.5 L395.1,306.7 L398.9,314.3 L400.8,320.5 L402.7,315.5 L405.2,320.5 L407.4,315.5 L409.6,321.2 L412.7,313.0 L415.8,315.5 L419.0,321.2 L422.1,309.2 L425.2,306.7 L427.8,301.7 L428.8,286.6 L430.0,267.8 L430.9,249.0 L432.1,230.2 L433.4,197.0 L434.4,173.5 L435.4,153.4 L436.8,138.0 L438.5,130.5 L439.6,138.0 L440.7,153.4 L442.4,173.5 L443.4,197.0 L444.7,223.9 L445.9,249.0 L447.2,274.1 L449.1,292.9 L450.9,301.9 L452.6,309.7 L455.2,314.0 L456.5,322.7 L458.2,316.6 L460.8,316.6 L463.8,320.9 L468.2,321.8 L471.6,327.4 L475.9,324.0 L480.3,320.5 L483.7,331.3 L487.2,324.4 L490.6,332.2 L493.2,325.3 L497.5,333.9 L500.1,328.3 L504.5,337.4 L508.8,333.0 L512.2,323.5 L517.4,323.1 L520.9,325.3 L522.6,333.5 L526.1,329.6 L531.2,324.4 L536.4,334.8 L539.0,326.1 L541.6,335.6 L544.6,320.9 L546.8,333.0 L549.0,320.9 L551.6,331.3 L554.6,322.7 L555.9,333.0 L558.9,325.7 L562.4,328.7" stroke="#000" stroke-width="2.9" stroke-linejoin="round" fill="none"/><rect x="977.3" y="61.5" width="357.2" height="312" fill="none" stroke="#000" stroke-width="2.8"/><path d="M1006.5,373.5 V367.0 M1006.5,61.5 V68.0 M1036.3,373.5 V369.9 M1036.3,61.5 V65.1 M1066.1,373.5 V367.0 M1066.1,61.5 V68.0 M1095.9,373.5 V369.9 M1095.9,61.5 V65.1 M1125.7,373.5 V367.0 M1125.7,61.5 V68.0 M1155.5,373.5 V369.9 M1155.5,61.5 V65.1 M1185.3,373.5 V367.0 M1185.3,61.5 V68.0 M1215.1,373.5 V369.9 M1215.1,61.5 V65.1 M1244.9,373.5 V367.0 M1244.9,61.5 V68.0 M1274.7,373.5 V369.9 M1274.7,61.5 V65.1 M1304.5,373.5 V367.0 M1304.5,61.5 V68.0 M977.3,92.3 H983.8 M1334.5,92.3 H1328.0 M977.3,123.5 H980.9 M1334.5,123.5 H1330.9 M977.3,154.7 H983.8 M1334.5,154.7 H1328.0 M977.3,185.9 H980.9 M1334.5,185.9 H1330.9 M977.3,217.1 H983.8 M1334.5,217.1 H1328.0 M977.3,248.3 H980.9 M1334.5,248.3 H1330.9 M977.3,279.5 H983.8 M1334.5,279.5 H1328.0 M977.3,310.7 H980.9 M1334.5,310.7 H1330.9 M977.3,341.9 H983.8 M1334.5,341.9 H1328.0" stroke="#000" stroke-width="3" fill="none"/><text class="t" transform="translate(1304.5,401.5) scale(1,1.035)" font-size="27.5" text-anchor="middle" font-family="Liberation Sans, sans-serif">60</text><text class="t" transform="translate(1244.9,401.5) scale(1,1.035)" font-size="27.5" text-anchor="middle" font-family="Liberation Sans, sans-serif">65</text><text class="t" transform="translate(1185.3,401.5) scale(1,1.035)" font-size="27.5" text-anchor="middle" font-family="Liberation Sans, sans-serif">70</text><text class="t" transform="translate(1125.7,401.5) scale(1,1.035)" font-size="27.5" text-anchor="middle" font-family="Liberation Sans, sans-serif">75</text><text class="t" transform="translate(1066.1,401.5) scale(1,1.035)" font-size="27.5" text-anchor="middle" font-family="Liberation Sans, sans-serif">80</text><text class="t" transform="translate(1006.5,401.5) scale(1,1.035)" font-size="27.5" text-anchor="middle" font-family="Liberation Sans, sans-serif">85</text><text class="t" transform="translate(1156,446.2) scale(1,1.035)" font-size="27.7" text-anchor="middle" font-family="Liberation Sans, sans-serif">Binding Energy / eV</text><text class="t" transform="translate(952.9,224.4) rotate(-90) scale(1,1.035)" font-size="28.2" text-anchor="middle" font-family="Liberation Sans, sans-serif">Intensity</text><path d="M1006.0,285.2 L1009.0,284.0 L1011.0,282.0 L1013.7,281.6 L1016.0,284.0 L1018.7,285.6 L1025.0,284.5 L1028.0,279.0 L1030.0,276.6 L1032.0,280.0 L1034.0,283.0 L1037.0,283.8 L1042.0,281.6 L1047.0,283.0 L1052.0,280.2 L1056.0,279.5 L1061.0,283.0 L1064.0,287.0 L1066.0,289.5 L1069.0,283.8 L1072.0,281.6 L1076.0,280.9 L1080.0,276.6 L1085.0,277.7 L1089.0,276.6 L1092.0,272.2 L1096.0,267.9 L1100.0,265.0 L1102.0,258.0 L1104.5,252.0 L1106.0,246.0 L1110.0,244.0 L1112.0,240.0 L1116.7,216.0 L1121.8,183.0 L1126.0,150.0 L1128.5,130.0 L1130.6,122.0 L1133.5,133.5 L1136.8,163.6 L1140.2,197.0 L1143.5,224.0 L1146.9,240.0 L1149.9,245.5 L1153.5,238.0 L1156.9,217.1 L1160.2,187.0 L1163.6,155.2 L1166.9,126.8 L1169.4,110.0 L1171.1,106.7 L1173.6,118.4 L1177.0,163.6 L1180.3,217.1 L1183.7,275.6 L1186.1,294.0 L1189.0,306.0 L1192.8,317.0 L1195.5,319.0 L1197.0,326.0 L1199.5,329.2 L1204.0,330.5 L1208.9,331.9 L1212.0,335.0 L1216.9,337.2 L1219.0,333.0 L1222.3,335.2 L1227.0,338.0 L1233.0,337.9 L1236.0,332.0 L1239.0,329.2 L1241.0,332.5 L1243.7,332.5 L1247.7,331.9 L1250.0,328.0 L1254.4,323.8 L1258.0,326.0 L1263.8,325.8 L1267.0,330.0 L1270.5,333.9 L1273.0,336.0 L1275.8,335.2 L1277.8,343.9 L1280.0,339.0 L1283.9,340.6 L1288.0,343.0 L1291.9,345.2 L1295.0,341.0 L1298.6,339.9 L1301.3,344.6 L1303.0,339.0 L1304.6,339.2" stroke="#000" stroke-width="3.2" stroke-linejoin="round" fill="none"/><path d="M1018.7,289.7 L1040.0,289.7 L1060.0,289.3 L1070.0,288.6 L1095.0,286.5 L1110.0,285.5 L1128.5,284.0 L1136.8,279.8 L1143.5,272.3 L1148.5,260.6 L1152.7,243.9 L1156.1,225.5 L1158.6,203.7 L1160.2,188.7 L1163.6,155.2 L1166.9,126.8 L1169.4,110.0 L1171.1,106.7 L1173.6,118.4 L1177.0,163.6 L1180.3,217.1 L1183.7,275.6 L1186.1,293.7 L1189.0,305.0 L1192.8,316.5 L1196.0,324.0 L1199.5,329.2" stroke="#0000ff" stroke-width="2" stroke-linejoin="round" fill="none"/><path d="M1006.0,281.3 L1009.0,282.0 L1011.0,280.0 L1013.7,277.3 L1016.0,282.0 L1018.7,287.7 L1040.0,287.7 L1060.0,287.5 L1068.0,285.2 L1080.0,282.3 L1090.0,279.1 L1095.0,277.3 L1100.0,272.5 L1105.0,265.6 L1111.7,250.6 L1116.7,225.5 L1121.8,192.0 L1126.0,161.9 L1128.5,150.0 L1130.6,144.3 L1132.5,150.0 L1134.3,163.6 L1137.7,200.4 L1141.0,242.2 L1144.3,274.0 L1147.0,290.0 L1150.2,300.0 L1153.0,307.0 L1156.7,315.0 L1161.0,318.5 L1165.4,320.5 L1170.0,323.0" stroke="#ff0000" stroke-width="2" stroke-linejoin="round" fill="none"/><path d="M1006.0,284.9 L1009.0,285.5 L1011.0,283.0 L1013.7,280.9 L1016.0,286.0 L1018.7,292.8 L1035.0,293.9 L1050.0,295.0 L1070.0,296.0 L1090.0,297.1 L1100.0,297.8 L1108.8,300.0 L1120.0,303.5 L1130.6,308.5 L1141.5,313.5 L1152.0,316.5 L1163.4,319.5 L1170.0,323.0 L1179.5,329.9 L1190.0,331.0 L1199.5,331.0" stroke="#00ff00" stroke-width="2" stroke-linejoin="round" fill="none"/><path d="M1006.1,277.0 L1009.0,277.5 L1011.0,275.0 L1013.7,271.9 L1016.0,278.0 L1018.7,283.0 L1040.0,282.0 L1060.0,279.5 L1070.0,278.4 L1080.0,275.8 L1090.0,271.5 L1095.0,267.5 L1100.0,262.2 L1105.0,255.6 L1111.7,240.5 L1116.7,217.1 L1121.8,183.6 L1126.0,150.2 L1128.5,130.1 L1130.6,120.9 L1133.5,133.5 L1136.8,163.6 L1140.2,197.0 L1143.5,223.8 L1146.9,238.8 L1149.9,243.9 L1153.5,237.2 L1156.9,217.1 L1160.2,187.0 L1163.6,155.2 L1166.9,126.8 L1169.4,110.0 L1171.1,106.7 L1173.6,118.4 L1177.0,163.6 L1180.3,217.1 L1183.7,275.6 L1186.1,293.7 L1189.0,305.0 L1192.8,316.5 L1196.0,324.0 L1199.5,329.2 L1204.0,330.5 L1208.9,331.9 L1212.0,335.0 L1216.9,337.2 L1219.0,333.0 L1222.3,335.2 L1227.0,338.0 L1233.0,337.9 L1236.0,332.0 L1239.0,329.2 L1241.0,332.5 L1243.7,332.5 L1247.7,331.9 L1250.0,328.0 L1254.4,323.8 L1258.0,326.0 L1263.8,325.8 L1267.0,330.0 L1270.5,333.9 L1273.0,336.0 L1275.8,335.2 L1277.8,343.9 L1280.0,339.0 L1283.9,340.6 L1288.0,343.0 L1291.9,345.2 L1295.0,341.0 L1298.6,339.9 L1301.3,344.6 L1303.0,339.0 L1304.6,339.2" stroke="#d042d8" stroke-width="2" stroke-linejoin="round" fill="none"/><rect x="1188" y="80.8" width="138.2" height="119" fill="#fff" stroke="#000" stroke-width="1.8"/><path d="M1194,94 H1234.4" stroke="#000" stroke-width="2"/><path d="M1195,114.4 H1234" stroke="#0000ff" stroke-width="1.3"/><path d="M1195,141.1 H1234" stroke="#ff0000" stroke-width="1.3"/><path d="M1195,168.3 H1234" stroke="#00ff00" stroke-width="1.3"/><path d="M1195,189.2 H1234" stroke="#d042d8" stroke-width="1.3"/><text class="t2" transform="translate(1238,99.8) scale(1,1.035)" font-size="16.2" font-family="Liberation Sans, sans-serif">Pt 4f</text><text class="t2" transform="translate(1238,120.7) scale(1,1.035)" font-size="16.2" font-family="Liberation Sans, sans-serif">Pt 4f<tspan font-size="10" dy="7.3">5/2</tspan></text><text class="t2" transform="translate(1238,147.7) scale(1,1.035)" font-size="16.2" font-family="Liberation Sans, sans-serif">Pt 4f<tspan font-size="10" dy="7.3">7/2</tspan></text><text class="t2" transform="translate(1238,174.5) scale(1,1.035)" font-size="16.2" font-family="Liberation Sans, sans-serif">Background</text><text class="t2" transform="translate(1238,195.7) scale(1,1.035)" font-size="16.2" font-family="Liberation Sans, sans-serif">Envelope</text></svg></body></html>
